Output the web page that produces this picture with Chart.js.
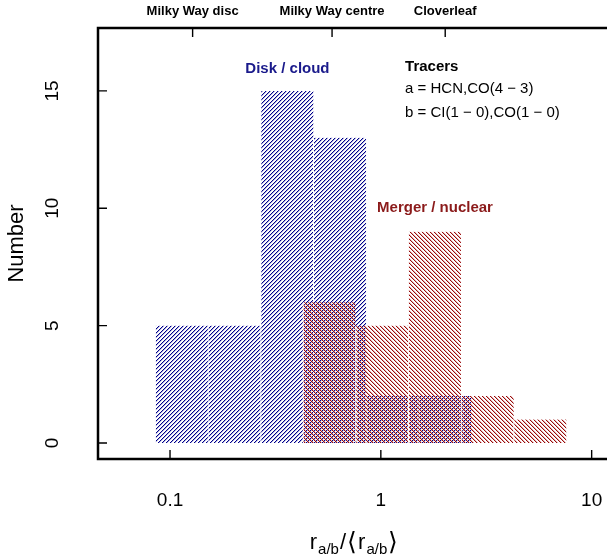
<!DOCTYPE html>
<html><head><meta charset="utf-8">
<script src="https://cdn.jsdelivr.net/npm/chart.js@4"></script>
<style>html,body{margin:0;padding:0;overflow:hidden;background:#fff;}canvas{display:block;}</style>
</head><body>
<canvas id="c" width="620" height="559"></canvas>
<script>
// Histogram bins: centres in log10(r_a/b / <r_a/b>), bin width 0.25 dex
const diskBinCentresLog = [-0.945, -0.695, -0.445, -0.195, 0.055, 0.305];
const diskCounts = [5, 5, 15, 13, 2, 2];
const mergerBinCentresLog = [-0.245, 0.005, 0.255, 0.505, 0.755];
const mergerCounts = [6, 5, 9, 2, 1];
const xTickValues = [0.1, 1, 10];
const yTickValues = [0, 5, 10, 15];
const referenceNames = ['Milky Way disc', 'Milky Way centre', 'Cloverleaf'];
const referenceValues = [0.128, 0.587, 2.02];
const seriesNames = ['Disk / cloud', 'Merger / nuclear'];
const tracerTitle = 'Tracers';
const tracerLines = ['a = HCN,CO(4 \u2212 3)', 'b = CI(1 \u2212 0),CO(1 \u2212 0)'];

const X_MIN = -1.3416, X_MAX = 1.0870, Y_MIN = -0.68, Y_MAX = 17.68;
const BLUE = '#00008B', RED = '#9A0A0A';
const FONT = "'Liberation Sans', Arial, Helvetica, sans-serif";

const canvas = document.getElementById('c');
const ctx = canvas.getContext('2d');

// 4px diagonal hatch tile: dir>0 gives '/', dir<0 gives '\'
function hatch(color, dir, shift) {
  const t = document.createElement('canvas');
  t.width = 4; t.height = 4;
  const g = t.getContext('2d');
  g.fillStyle = color;
  for (let y = 0; y < 4; y++) for (let x = 0; x < 4; x++) {
    const raw = dir > 0 ? (x + y) : (x - y);
    const k = (((raw - shift) % 4) + 4) % 4;
    if (k === 0) { g.globalAlpha = 1; g.fillRect(x, y, 1, 1); }
    else if (k === 1) { g.globalAlpha = 0.3; g.fillRect(x, y, 1, 1); }
  }
  return ctx.createPattern(t, 'repeat');
}

function noPad(s) { s.paddingTop = 0; s.paddingBottom = 0; s.paddingLeft = 0; s.paddingRight = 0; }

const frame = {
  id: 'frame',
  afterDraw(chart) {
    const { ctx, chartArea: a, scales } = chart;
    const xs = scales.x, ys = scales.y, xt = scales.xTop;
    ctx.save();
    ctx.strokeStyle = '#000';
    ctx.lineWidth = 2.5;
    ctx.strokeRect(a.left, a.top, a.right - a.left, a.bottom - a.top);
    ctx.lineWidth = 1.4;
    ctx.beginPath();
    xs.ticks.forEach(t => { const p = xs.getPixelForValue(t.value); ctx.moveTo(p, a.bottom); ctx.lineTo(p, a.bottom - 9); });
    xt.ticks.forEach(t => { const p = xt.getPixelForValue(t.value); ctx.moveTo(p, a.top); ctx.lineTo(p, a.top + 9); });
    ys.ticks.forEach(t => { const p = ys.getPixelForValue(t.value); ctx.moveTo(a.left, p); ctx.lineTo(a.left + 9, p); });
    ctx.stroke();

    // series labels
    ctx.textBaseline = 'middle';
    ctx.textAlign = 'center';
    ctx.font = 'bold 15px ' + FONT;
    ctx.fillStyle = '#1A1A8B';
    ctx.fillText(seriesNames[0], xs.getPixelForValue(-0.443), ys.getPixelForValue(15.95));
    ctx.fillStyle = '#8B1A1A';
    ctx.fillText(seriesNames[1], xs.getPixelForValue(0.257), ys.getPixelForValue(10.02));

    // tracers block
    ctx.textAlign = 'left';
    ctx.fillStyle = '#000';
    const tx = xs.getPixelForValue(0.115);
    ctx.font = 'bold 15px ' + FONT;
    ctx.fillText(tracerTitle, tx, ys.getPixelForValue(16.03));
    ctx.font = '15px ' + FONT;
    ctx.fillText(tracerLines[0], tx, ys.getPixelForValue(15.07));
    ctx.fillText(tracerLines[1], tx, ys.getPixelForValue(14.08));

    // x-axis title with subscripts
    const parts = [
      ['r', 0], ['a/b', 1], ['/', 0], ['\u27E8', 2], ['r', 0], ['a/b', 1], ['\u27E9', 2]
    ];
    const fonts = ['22px ' + FONT, '15px ' + FONT, '25px ' + FONT];
    const gap = 1;
    let total = 0;
    const widths = parts.map(([t, s]) => { ctx.font = fonts[s]; const w = ctx.measureText(t).width; total += w; return w; });
    total += gap * (parts.length - 1);
    let cx = (a.left + a.right) / 2 - total / 2;
    const base = 549;
    ctx.textBaseline = 'alphabetic';
    parts.forEach(([t, s], i) => {
      ctx.font = fonts[s];
      ctx.fillText(t, cx, s === 1 ? base + 5 : (s === 2 ? base + 1 : base));
      cx += widths[i] + gap;
    });
    ctx.restore();
  }
};

new Chart(ctx, {
  type: 'bar',
  data: {
    datasets: [
      {
        label: seriesNames[0],
        data: diskBinCentresLog.map((v, i) => ({ x: v, y: diskCounts[i] })),
        xAxisID: 'x', yAxisID: 'y',
        backgroundColor: hatch(BLUE, 1, 0),
        borderColor: '#ffffff',
        borderWidth: { left: 1, right: 0, top: 0, bottom: 0 },
        barPercentage: 1, categoryPercentage: 1, grouped: false, order: 2
      },
      {
        label: seriesNames[1],
        data: mergerBinCentresLog.map((v, i) => ({ x: v, y: mergerCounts[i] })),
        xAxisID: 'x2', yAxisID: 'y',
        backgroundColor: hatch(RED, -1, 2),
        borderColor: '#ffffff',
        borderWidth: { left: 1, right: 0, top: 0, bottom: 0 },
        barPercentage: 1, categoryPercentage: 1, grouped: false, order: 1
      }
    ]
  },
  options: {
    responsive: false,
    animation: false,
    events: [],
    layout: { padding: { left: 0, right: 10, top: 0, bottom: 0 } },
    plugins: { legend: { display: false }, tooltip: { enabled: false } },
    scales: {
      x: {
        type: 'linear', position: 'bottom', min: X_MIN, max: X_MAX, offset: false,
        grid: { display: false, drawTicks: false, offset: false }, border: { display: false },
        afterBuildTicks: s => { s.ticks = xTickValues.map(v => ({ value: Math.log10(v) })); },
        afterFit: s => { s.height = 100; noPad(s); },
        ticks: {
          autoSkip: false, maxRotation: 0, minRotation: 0, padding: 30, color: '#000',
          font: { size: 19, family: FONT },
          callback: (v, i) => String(xTickValues[i])
        }
      },
      x2: {
        axis: 'x', type: 'linear', position: 'bottom', min: X_MIN, max: X_MAX, offset: false,
        grid: { offset: false }, display: false,
        afterBuildTicks: s => { s.ticks = []; },
        afterFit: s => { noPad(s); }
      },
      xTop: {
        axis: 'x', type: 'linear', position: 'top', min: X_MIN, max: X_MAX, offset: false,
        grid: { display: false, drawTicks: false, offset: false }, border: { display: false },
        afterBuildTicks: s => { s.ticks = referenceValues.map(v => ({ value: Math.log10(v) })); },
        afterFit: s => { s.height = 28; noPad(s); },
        ticks: {
          autoSkip: false, maxRotation: 0, minRotation: 0, padding: 9, color: '#000',
          font: { size: 13, weight: 'bold', family: FONT },
          callback: (v, i) => referenceNames[i]
        }
      },
      y: {
        type: 'linear', position: 'left', min: Y_MIN, max: Y_MAX,
        grid: { display: false, drawTicks: false }, border: { display: false },
        afterBuildTicks: s => { s.ticks = yTickValues.map(v => ({ value: v })); },
        afterFit: s => { s.width = 98; noPad(s); },
        ticks: {
          minRotation: 90, maxRotation: 90, crossAlign: 'center', padding: 35, color: '#000',
          font: { size: 19, family: FONT },
          callback: v => String(v)
        },
        title: {
          display: true, text: 'Number', color: '#000',
          font: { size: 22, family: FONT }, padding: { top: 4, bottom: 0 }
        }
      }
    }
  },
  plugins: [frame]
});
</script>
</body></html>
